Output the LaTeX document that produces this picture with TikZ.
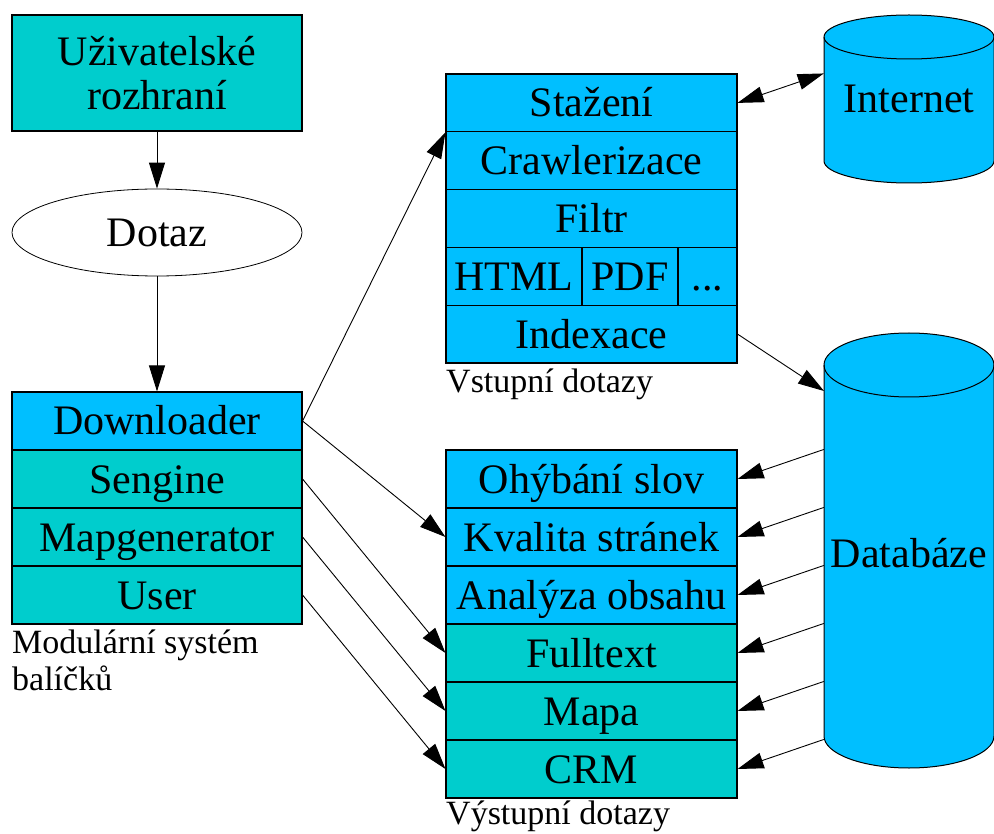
\documentclass[tikz,border=0pt]{standalone}
\usepackage{fontspec}
\setmainfont{Liberation Serif}
\usetikzlibrary{shapes.geometric,arrows.meta}
\definecolor{cblue}{HTML}{00BFFF}
\definecolor{cteal}{HTML}{00CDCD}
\newcommand\nodefont{\fontsize{42}{44}\selectfont}
\newcommand\labfont{\fontsize{34}{37}\selectfont}
\begin{document}
\begin{tikzpicture}[x=1pt,y=-1pt,
  box/.style={draw=black,line width=1.1pt,inner sep=0pt,text height=28pt,text depth=0pt,font=\nodefont},
  lbox/.style={box,minimum width=290pt,minimum height=58pt},
  rbox/.style={box,minimum width=291pt,minimum height=57.8pt},
  obox/.style={box,minimum width=291pt,minimum height=58pt},
  cyl/.style={draw=black,line width=1pt,fill=cblue},
  cyltext/.style={inner sep=0pt,minimum width=170pt,text height=28pt,text depth=0pt,font=\nodefont},
  arr/.style={line width=0.9pt,-{Triangle[length=26pt,width=16pt]}},
  dblarr/.style={line width=0.9pt,{Triangle[length=26pt,width=16pt]}-{Triangle[length=26pt,width=16pt]}},
  lab/.style={font=\labfont,inner sep=0pt}
]
\useasboundingbox (0,0) rectangle (994,834);

% cylinders
\path[cyl] (824,37) -- (824,161) arc[start angle=180,end angle=360,x radius=85pt,y radius=22pt]
  -- (994,37) arc[start angle=0,end angle=180,x radius=85pt,y radius=22pt] -- cycle;
\draw[line width=1pt] (824,37) arc[start angle=180,end angle=360,x radius=85pt,y radius=22pt];
\path[cyl] (824,365) -- (824,736) arc[start angle=180,end angle=360,x radius=85pt,y radius=32pt]
  -- (994,365) arc[start angle=0,end angle=180,x radius=85pt,y radius=32pt] -- cycle;
\draw[line width=1pt] (824,365) arc[start angle=180,end angle=360,x radius=85pt,y radius=32pt];
\node[cyltext,minimum height=168pt] (inet) at (909,99) {Internet};
\node[cyltext,minimum height=435pt] (db) at (909,553) {Databáze};

% left column
\node[lbox,fill=cteal,minimum height=116pt,text height=,text depth=,align=center] (ui) at (157,73) {Uživatelské\\rozhraní};
\node[draw=black,line width=0.8pt,ellipse,fill=white,minimum width=290pt,minimum height=87pt,inner sep=0pt,text height=28pt,text depth=0pt,font=\nodefont] (dotaz) at (157,232.5) {Dotaz};
\node[lbox,fill=cblue] (down) at (157,421) {Downloader};
\node[lbox,fill=cteal] (seng) at (157,479) {Sengine};
\node[lbox,fill=cteal] (mapg) at (157,537) {Mapgenerator};
\node[lbox,fill=cteal] (user) at (157,595) {User};
\node[lab,anchor=north west,align=left] (modlab) at (12,629.5) {Modulární systém\\balíčků};

% top stack
\node[rbox,fill=cblue] (staz) at (591.5,102.9) {Stažení};
\node[rbox,fill=cblue] (crawl) at (591.5,160.7) {Crawlerizace};
\node[rbox,fill=cblue] (filtr) at (591.5,218.5) {Filtr};
\node[box,fill=cblue,minimum width=136pt,minimum height=57.8pt] (html) at (514,276.3) {HTML};
\node[box,fill=cblue,minimum width=96pt,minimum height=57.8pt] (pdf) at (630,276.3) {PDF};
\node[box,fill=cblue,minimum width=59pt,minimum height=57.8pt] (dots) at (707.5,276.3) {...};
\node[rbox,fill=cblue] (idx) at (591.5,334.1) {Indexace};
\node[lab,anchor=base west] (vstlab) at (446,393) {Vstupní dotazy};

% lower stack
\node[obox,fill=cblue] (ohyb) at (591.5,479) {Ohýbání slov};
\node[obox,fill=cblue] (kval) at (591.5,537) {Kvalita stránek};
\node[obox,fill=cblue] (anal) at (591.5,595) {Analýza obsahu};
\node[obox,fill=cteal] (full) at (591.5,653) {Fulltext};
\node[obox,fill=cteal] (mapa) at (591.5,711) {Mapa};
\node[obox,fill=cteal] (crm) at (591.5,769) {CRM};
\node[lab,anchor=base west] (vyslab) at (446,824) {Výstupní dotazy};

% connectors
\draw[arr] (ui) -- (dotaz);
\draw[arr] (dotaz) -- (down);
\draw[arr] (down.east) -- (staz.south west);
\draw[arr] (down.east) -- (kval.west);
\draw[arr] (seng.east) -- (full.west);
\draw[arr] (mapg.east) -- (mapa.west);
\draw[arr] (user.east) -- (crm.west);
\draw[dblarr] (staz.east) -- (inet.west |- staz.north);
\coordinate (dbin) at (824,391);
\draw[arr] (idx.east) -- (dbin);
\foreach \r in {ohyb,kval,anal,full,mapa,crm}
  \draw[arr] (db.west |- \r.north) -- (\r.east);
\end{tikzpicture}
\end{document}
